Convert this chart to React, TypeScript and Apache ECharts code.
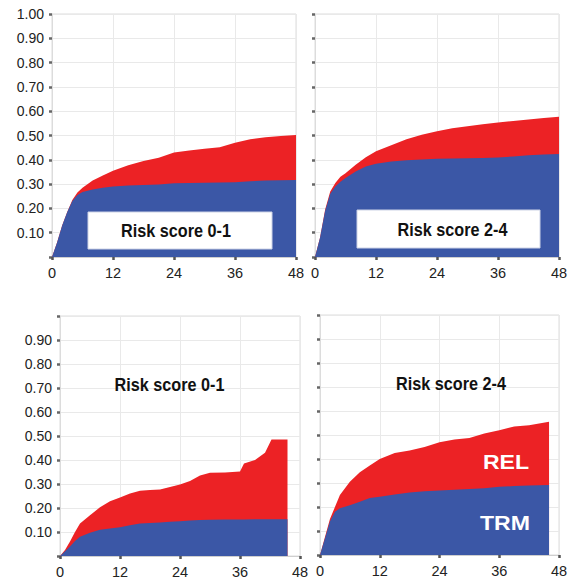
import React, { useEffect, useRef } from "react";
import * as echarts from "echarts";

// Months (x values) for each panel
const monthsTL = [0, 1, 2, 3, 4, 5, 6, 8, 10, 12, 15, 18, 21, 24, 27, 30, 33, 36, 39, 42, 45, 48];
const trmTL = [0, 0.06, 0.13, 0.185, 0.23, 0.255, 0.268, 0.278, 0.285, 0.29, 0.294, 0.296, 0.298, 0.303, 0.305, 0.306, 0.307, 0.308, 0.312, 0.315, 0.316, 0.317];
const totalTL = [0, 0.06, 0.13, 0.185, 0.235, 0.265, 0.285, 0.315, 0.335, 0.355, 0.378, 0.395, 0.408, 0.43, 0.438, 0.445, 0.452, 0.47, 0.485, 0.493, 0.498, 0.502];

const monthsTR = [0, 1, 2, 3, 4, 5, 6, 8, 10, 12, 15, 18, 21, 24, 27, 30, 33, 36, 39, 42, 45, 48];
const trmTR = [0, 0.08, 0.19, 0.26, 0.29, 0.31, 0.325, 0.352, 0.372, 0.384, 0.393, 0.398, 0.401, 0.404, 0.405, 0.406, 0.407, 0.409, 0.414, 0.419, 0.422, 0.424];
const totalTR = [0, 0.08, 0.195, 0.27, 0.305, 0.33, 0.345, 0.38, 0.41, 0.435, 0.46, 0.485, 0.503, 0.518, 0.53, 0.538, 0.546, 0.553, 0.56, 0.566, 0.572, 0.577];

const monthsBL = [0, 1, 2, 3, 4, 6, 8, 10, 12, 14, 16, 18, 20, 22, 24, 26, 28, 30, 33, 36, 36.8, 39, 41, 42.3, 45.5];
const trmBL = [0, 0.02, 0.04, 0.062, 0.08, 0.097, 0.109, 0.115, 0.12, 0.128, 0.135, 0.138, 0.14, 0.143, 0.145, 0.148, 0.15, 0.151, 0.152, 0.152, 0.152, 0.153, 0.153, 0.153, 0.153];
const totalBL = [0, 0.025, 0.06, 0.1, 0.135, 0.17, 0.203, 0.228, 0.244, 0.26, 0.272, 0.275, 0.277, 0.287, 0.298, 0.313, 0.335, 0.347, 0.348, 0.352, 0.385, 0.4, 0.43, 0.485, 0.485];

const monthsBR = [0, 1, 2, 3, 4, 6, 8, 10, 12, 15, 18, 21, 24, 27, 30, 33, 36, 39, 42, 46];
const trmBR = [0, 0.07, 0.14, 0.18, 0.195, 0.207, 0.222, 0.237, 0.243, 0.252, 0.26, 0.266, 0.269, 0.272, 0.275, 0.278, 0.284, 0.287, 0.29, 0.292];
const totalBR = [0, 0.075, 0.15, 0.2, 0.25, 0.305, 0.345, 0.373, 0.4, 0.425, 0.435, 0.45, 0.47, 0.481, 0.487, 0.506, 0.52, 0.535, 0.541, 0.555];

const panelTitles = ["Risk score 0-1", "Risk score 2-4", "Risk score 0-1", "Risk score 2-4"];
const seriesNames = ["REL", "TRM"];

const RED = "#ec2225";
const BLUE = "#3b57a6";
const FONT = "'Liberation Sans', Arial, Helvetica, sans-serif";

const panels = [
  { months: monthsTL, trm: trmTL, total: totalTL, grid: { left: 52, top: 14, width: 244, height: 243 }, yLabels: "top" },
  { months: monthsTR, trm: trmTR, total: totalTR, grid: { left: 315, top: 14, width: 244, height: 243 }, yLabels: "none" },
  { months: monthsBL, trm: trmBL, total: totalBL, grid: { left: 60, top: 316, width: 240, height: 240 }, yLabels: "bottom" },
  { months: monthsBR, trm: trmBR, total: totalBR, grid: { left: 320, top: 315, width: 239, height: 240 }, yLabels: "none" },
];

export default function App() {
  const ref = useRef<HTMLDivElement>(null);
  useEffect(() => {
    if (!ref.current) return;
    const chart = echarts.init(ref.current, undefined, { renderer: "svg" });
    const grids: any[] = [];
    const xAxes: any[] = [];
    const yAxes: any[] = [];
    const series: any[] = [];
    panels.forEach((p, i) => {
      grids.push({ ...p.grid, show: true, borderColor: "#dcdcdc", borderWidth: 1, backgroundColor: "transparent" });
      xAxes.push({
        type: "value",
        gridIndex: i,
        min: 0,
        max: 48,
        interval: 12,
        axisLine: { show: true, lineStyle: { color: "#cfcfcf" } },
        axisTick: { show: true, length: 3, inside: false, lineStyle: { color: "#555", width: 2.5 } },
        axisLabel: { color: "#222", fontSize: 14.5, fontFamily: FONT, margin: 8, showMaxLabel: true, showMinLabel: true },
        splitLine: { show: true, lineStyle: { color: "#e9e9e9", width: 1 } },
      });
      yAxes.push({
        type: "value",
        gridIndex: i,
        min: 0,
        max: 1,
        interval: 0.1,
        axisLine: { show: true, lineStyle: { color: "#dcdcdc" } },
        axisTick: { show: true, length: 3, lineStyle: { color: "#666", width: 2.5 } },
        axisLabel: {
          show: p.yLabels !== "none",
          color: "#222",
          fontSize: 14,
          fontFamily: FONT,
          margin: 8,
          formatter: (v: number) => {
            if (v < 0.05) return "";
            if (p.yLabels === "bottom" && v > 0.95) return "";
            return v.toFixed(2);
          },
        },
        splitLine: { show: true, lineStyle: { color: "#e9e9e9", width: 1 } },
      });
      series.push({
        name: seriesNames[0],
        type: "line",
        xAxisIndex: i,
        yAxisIndex: i,
        data: p.months.map((m, k) => [m, p.total[k]]),
        symbol: "none",
        lineStyle: { width: 0, color: RED },
        areaStyle: { color: RED, opacity: 1 },
        z: 2,
      });
      series.push({
        name: seriesNames[1],
        type: "line",
        xAxisIndex: i,
        yAxisIndex: i,
        data: p.months.map((m, k) => [m, p.trm[k]]),
        symbol: "none",
        lineStyle: { width: 0, color: BLUE },
        areaStyle: { color: BLUE, opacity: 1 },
        z: 3,
      });
    });

    const titleText = (text: string, x: number, y: number) => ({
      type: "text",
      x,
      y,
      scaleX: 0.9,
      z: 100,
      style: {
        text,
        fill: "#111",
        font: `bold 18px ${FONT}`,
        textAlign: "center",
        textVerticalAlign: "middle",
      },
    });
    const seriesText = (text: string, x: number, y: number) => ({
      type: "text",
      x,
      y,
      scaleX: 1.1,
      z: 100,
      style: {
        text,
        fill: "#ffffff",
        font: `bold 21px ${FONT}`,
        textAlign: "center",
        textVerticalAlign: "middle",
      },
    });

    chart.setOption({
      animation: false,
      grid: grids,
      xAxis: xAxes,
      yAxis: yAxes,
      series,
      graphic: [
        { type: "rect", shape: { x: 88, y: 212, width: 184, height: 37 }, style: { fill: "#fff", stroke: "#cdd3e6", lineWidth: 1 }, z: 99 },
        titleText(panelTitles[0], 176, 231.5),
        { type: "rect", shape: { x: 357, y: 210, width: 183, height: 38 }, style: { fill: "#fff", stroke: "#cdd3e6", lineWidth: 1 }, z: 99 },
        titleText(panelTitles[1], 452.5, 230),
        titleText(panelTitles[2], 169.5, 385),
        titleText(panelTitles[3], 451, 384),
        seriesText(seriesNames[0], 506, 462),
        seriesText(seriesNames[1], 505, 523),
      ],
    });
    return () => chart.dispose();
  }, []);
  return <div ref={ref} style={{ position: "absolute", left: 0, top: 0, width: 574, height: 579 }} />;
}
